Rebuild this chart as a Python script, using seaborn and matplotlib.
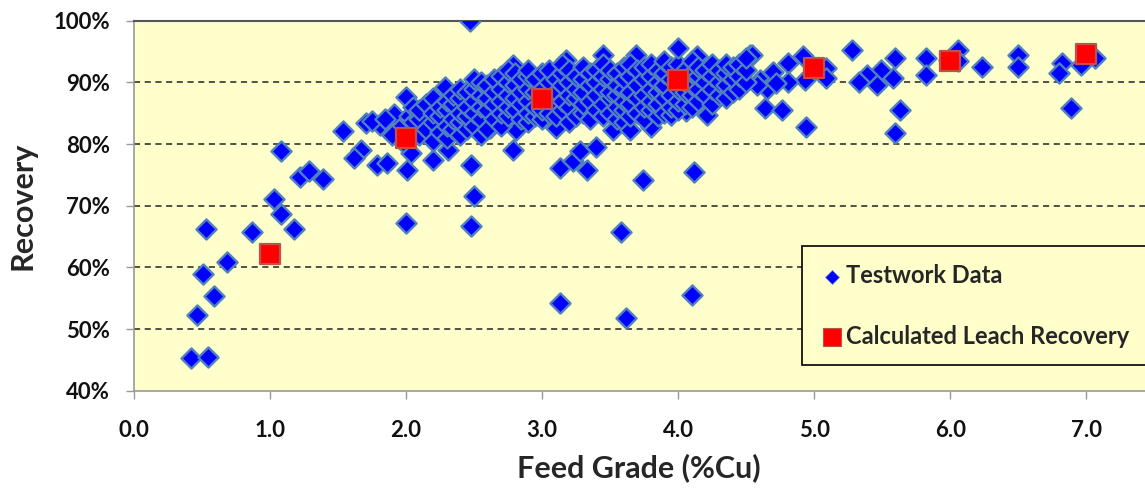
import matplotlib
matplotlib.use("Agg")
import matplotlib.pyplot as plt
import seaborn as sns
import numpy as np
import pandas as pd
from matplotlib.ticker import FuncFormatter

# ---------------- data ----------------
# Testwork data: sparse points (feed grade %Cu, recovery %)
test_x_sparse = [0.42, 0.55, 0.47, 0.51, 0.59, 0.53, 0.69, 0.87, 1.03, 1.08, 1.18, 1.08,
                 1.22, 1.29, 1.39, 1.54, 1.67, 1.62, 1.79, 1.86, 1.71, 1.81, 1.91, 2.00,
                 2.01, 2.04, 2.20, 2.31, 2.29, 2.00, 2.48, 2.50, 2.48, 2.47, 2.79, 3.18,
                 3.45, 2.79, 3.13, 3.23, 3.33, 3.28, 3.40, 2.62, 2.81, 3.69, 4.14, 4.53,
                 3.74, 4.12, 3.52, 3.80, 4.21, 4.06, 3.77, 3.13, 3.62, 4.10, 3.58,
                 4.54, 5.28, 5.59, 5.82, 5.82, 5.58, 5.49, 5.39, 5.33, 5.46, 5.63, 5.59,
                 4.94, 4.64, 4.76, 4.81, 4.92, 5.09, 5.09, 4.93, 4.81, 4.70, 4.60, 4.65,
                 4.72, 4.58, 6.06, 6.06, 6.23, 6.50, 6.50, 6.82, 6.80, 6.96, 7.06, 6.89,
                 1.95, 1.98, 2.02, 1.90, 1.75, 1.85, 5.99]
test_y_sparse = [45.3, 45.4, 52.3, 58.9, 55.3, 66.2, 60.9, 65.8, 71.1, 68.6, 66.2, 78.9,
                 74.7, 75.7, 74.3, 82.1, 79.0, 77.7, 76.6, 77.0, 83.4, 83.1, 84.9, 87.7,
                 75.8, 78.5, 77.4, 79.0, 89.3, 67.2, 76.6, 71.6, 66.7, 100.0, 92.8, 93.6,
                 94.4, 79.1, 76.1, 77.2, 75.8, 78.8, 79.6, 82.6, 82.3, 94.4, 94.2, 94.4,
                 74.2, 75.5, 82.3, 82.8, 84.7, 85.3, 85.0, 54.3, 51.8, 55.6, 65.8,
                 94.4, 95.2, 93.9, 93.9, 91.2, 90.7, 92.0, 91.2, 90.1, 89.6, 85.5, 81.8,
                 82.8, 85.8, 85.5, 93.1, 94.2, 92.3, 90.7, 90.4, 90.1, 91.7, 90.4, 89.0,
                 89.9, 89.6, 95.2, 93.4, 92.5, 94.4, 92.5, 93.1, 91.5, 92.8, 93.9, 85.9,
                 82.5, 80.3, 84.5, 81.5, 83.8, 84.0, 93.6]

# Testwork data: dense cluster, read column by column
cluster_cols = [2.05, 2.10, 2.15, 2.20, 2.25, 2.30, 2.35, 2.40, 2.45, 2.50, 2.55, 2.60,
                2.65, 2.70, 2.75, 2.80, 2.85, 2.90, 2.95, 3.00, 3.05, 3.10, 3.15, 3.20,
                3.25, 3.30, 3.35, 3.40, 3.45, 3.50, 3.55, 3.60, 3.65, 3.70, 3.75, 3.80,
                3.85, 3.90, 3.95, 4.00, 4.05, 4.10, 4.15, 4.20, 4.25, 4.30, 4.35, 4.40,
                4.45, 4.50]
cluster_vals = [
    [83.5, 86.0], [81.5, 84.0, 85.5], [82.5, 86.5], [80.5, 83.5, 85.0, 87.5],
    [82.0, 84.5, 86.0], [81.0, 83.0, 85.5, 87.0], [82.5, 84.0, 86.5, 88.0],
    [81.5, 83.5, 85.0, 87.5, 89.0], [82.5, 84.5, 86.0, 88.5],
    [83.0, 85.0, 87.0, 89.0, 90.5], [81.5, 84.0, 86.0, 88.0, 90.0],
    [82.5, 85.5, 87.5, 89.5], [84.0, 86.5, 88.5, 90.5],
    [83.0, 85.0, 87.0, 89.0, 91.0], [84.5, 86.0, 88.0, 90.0, 92.0],
    [85.5, 87.5, 89.5, 91.5], [84.0, 86.5, 88.5, 90.5],
    [83.5, 85.0, 87.0, 89.0, 91.0, 92.0], [84.5, 86.0, 88.5, 90.5],
    [84.0, 85.5, 89.0, 91.5], [85.0, 87.5, 90.0, 92.0],
    [82.6, 84.5, 86.5, 88.5, 90.5], [85.5, 87.0, 89.5, 91.5, 93.0],
    [83.5, 86.0, 88.0, 90.0, 92.0], [84.5, 87.5, 89.0, 91.0],
    [85.0, 86.5, 88.5, 90.5, 92.5], [84.0, 87.0, 89.5, 91.5],
    [85.5, 88.0, 90.0, 92.0], [84.5, 86.5, 89.0, 91.0, 93.0],
    [85.0, 87.5, 88.5, 90.5, 92.0], [84.0, 86.0, 88.0, 89.5, 91.5],
    [83.5, 85.5, 87.0, 89.0, 90.5, 92.5], [82.3, 84.5, 86.5, 88.5, 91.0, 93.0],
    [85.0, 87.5, 89.5, 92.0], [84.0, 86.0, 88.0, 90.5, 92.5],
    [85.5, 87.0, 89.0, 91.0, 93.0], [84.5, 86.5, 88.5, 90.0, 92.0],
    [85.0, 87.5, 89.5, 91.5, 93.5], [84.7, 86.0, 88.0, 90.5, 92.5],
    [85.5, 87.0, 89.0, 91.0, 93.0, 95.5], [86.5, 88.5, 90.0, 92.0],
    [86.0, 88.0, 89.5, 91.5, 93.5], [87.0, 89.0, 91.0, 92.5],
    [88.0, 90.0, 92.0], [86.5, 89.0, 91.0, 93.0], [88.0, 90.0, 92.0],
    [87.4, 89.5, 91.5, 93.0], [88.5, 90.5, 92.5], [89.0, 91.0, 93.0],
    [90.0, 92.0, 94.0],
]

# Calculated leach recovery
calc_x = [1.0, 2.0, 3.0, 4.0, 5.0, 6.0, 7.0]
calc_y = [62.2, 81.0, 87.3, 90.4, 92.3, 93.5, 94.6]

y_ticks = [40, 50, 60, 70, 80, 90, 100]
x_ticks = [0.0, 1.0, 2.0, 3.0, 4.0, 5.0, 6.0, 7.0]

# ---------------- build frames ----------------
cx, cy = [], []
for xv, ys in zip(cluster_cols, cluster_vals):
    for yv in ys:
        cx.append(xv)
        cy.append(yv)
test_df = pd.DataFrame({"grade": test_x_sparse + cx, "rec": test_y_sparse + cy})
calc_df = pd.DataFrame({"grade": calc_x, "rec": calc_y})

# ---------------- plot ----------------
sns.set_style("white")
plt.rcParams["font.family"] = ["Lato", "DejaVu Sans"]

fig = plt.figure(figsize=(11.45, 4.93), dpi=100)
ax = fig.add_axes([0.1166, 0.2075, 0.8834, 0.7505])
bg = "#FFFFCC"
ax.set_facecolor(bg)

sns.scatterplot(data=test_df, x="grade", y="rec", marker="D", s=105,
                color="#0000FF", edgecolor="#4F81BD", linewidth=1.7,
                ax=ax, label="Testwork Data", zorder=3)
sns.scatterplot(data=calc_df, x="grade", y="rec", marker="s", s=195,
                color="#FF0000", edgecolor="#C0504D", linewidth=1.6,
                ax=ax, label="Calculated Leach Recovery", zorder=4)

ax.set_xlim(0, 7.43)
ax.set_ylim(40, 100)
ax.set_xticks(x_ticks)
ax.set_yticks(y_ticks)
ax.xaxis.set_major_formatter(FuncFormatter(lambda v, p: f"{v:.1f}"))
ax.yaxis.set_major_formatter(FuncFormatter(lambda v, p: f"{int(round(v))}%"))

for yv in y_ticks[1:-1]:
    ax.axhline(yv, color="#222222", linestyle=(0, (4, 3)), linewidth=1.1, zorder=1)

for lab in ax.get_xticklabels() + ax.get_yticklabels():
    lab.set_fontweight("bold")
    lab.set_fontsize(16)
    lab.set_color("#111111")

ax.tick_params(axis="y", direction="out", length=6, width=1, color="#999999", pad=11, left=True)
ax.tick_params(axis="x", direction="out", length=6, width=1, color="#999999", pad=15, bottom=True)

ax.set_xlabel("Feed Grade (%Cu)", fontsize=22, fontweight="bold", labelpad=9)
ax.set_ylabel("Recovery", fontsize=22, fontweight="bold", labelpad=12)

for side in ["left", "bottom"]:
    ax.spines[side].set_color("#999999")
    ax.spines[side].set_linewidth(1.2)
ax.spines["top"].set_color("#555555")
ax.spines["top"].set_linewidth(1.5)
ax.spines["right"].set_visible(False)

leg = ax.legend(loc="upper left", bbox_to_anchor=(0.661, 0.391), frameon=True,
                fancybox=False, facecolor=bg, edgecolor="#000000", framealpha=1,
                prop={"weight": "bold", "size": 17}, labelspacing=1.6,
                handletextpad=0.1, handlelength=1.0, borderpad=0.75, borderaxespad=0)
leg.get_frame().set_linewidth(1.2)
hs = leg.legend_handles
hs[0].set_sizes([50])
hs[0].set_linewidth(0.5)
hs[1].set_sizes([150])
hs[1].set_linewidth(0.8)

fig.savefig("out.png", dpi=100)
